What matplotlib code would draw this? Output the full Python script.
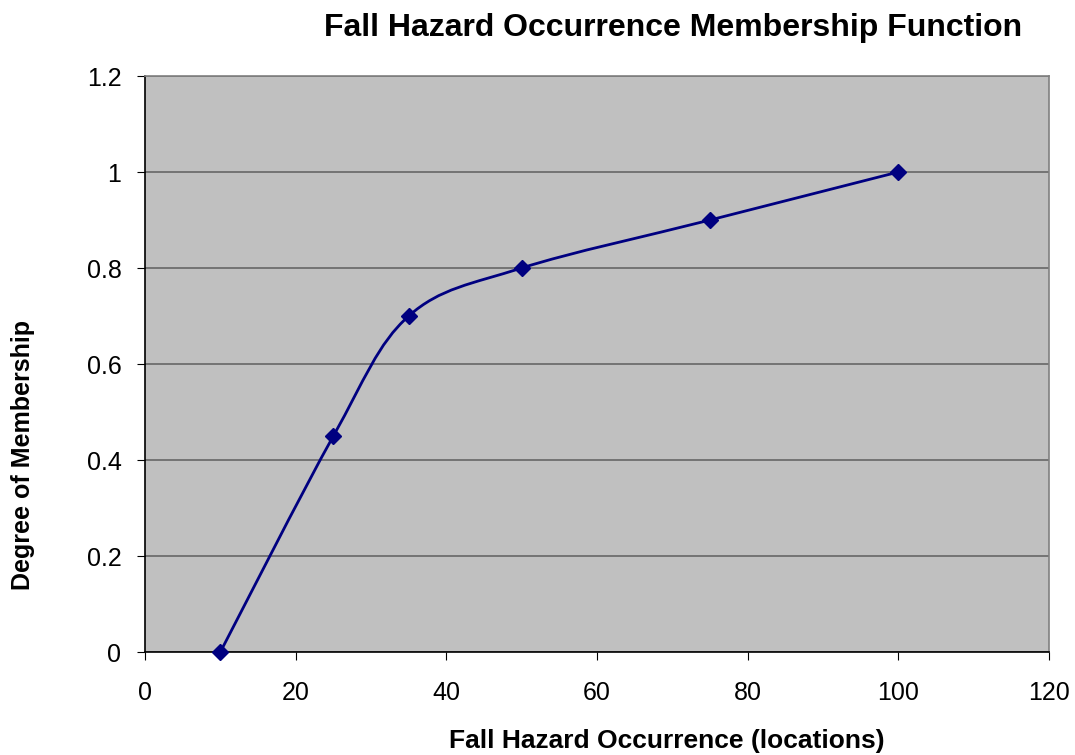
import numpy as np
import matplotlib
matplotlib.use("Agg")
import matplotlib.pyplot as plt
from matplotlib.path import Path
from matplotlib.patches import PathPatch

# data
occurrence = [10, 25, 35, 50, 75, 100]
membership = [0.0, 0.45, 0.7, 0.8, 0.9, 1.0]
x_ticks = [0, 20, 40, 60, 80, 100, 120]
y_ticks = [0, 0.2, 0.4, 0.6, 0.8, 1, 1.2]
y_labels = ["0", "0.2", "0.4", "0.6", "0.8", "1", "1.2"]

NAVY = "#000080"

plt.rcParams['font.family'] = ['Liberation Sans', 'DejaVu Sans']

fig = plt.figure(figsize=(10.75, 7.55), dpi=100)
ax = fig.add_axes([0.1349, 0.1364, 0.8409, 0.7629])
ax.set_facecolor("#C0C0C0")

# smoothed line like the spreadsheet (catmull-rom style bezier)
pts = np.column_stack([occurrence, membership])
padded = np.vstack([pts[0], pts, pts[-1]])
verts = [tuple(pts[0])]
codes = [Path.MOVETO]
for i in range(len(pts) - 1):
    p0, p1, p2, p3 = padded[i], padded[i + 1], padded[i + 2], padded[i + 3]
    c1 = p1 + (p2 - p0) / 6.0
    c2 = p2 - (p3 - p1) / 6.0
    verts += [tuple(c1), tuple(c2), tuple(p2)]
    codes += [Path.CURVE4] * 3
ax.add_patch(PathPatch(Path(verts, codes), facecolor="none", edgecolor=NAVY,
                       lw=2, zorder=3))
ax.plot(occurrence, membership, linestyle="none", marker="D", ms=8,
        color=NAVY, zorder=4, clip_on=False)

ax.set_xlim(0, 120)
ax.set_ylim(0, 1.2)
ax.set_xticks(x_ticks)
ax.set_yticks(y_ticks)
ax.set_yticklabels(y_labels)
ax.yaxis.grid(True, color="#666666", lw=1.2)
ax.set_axisbelow(True)
ax.tick_params(direction="out", length=6, labelsize=18, color="black")
ax.tick_params(axis="x", pad=15)
ax.tick_params(axis="y", pad=11)
for side in ["left", "bottom"]:
    ax.spines[side].set_color("black")
    ax.spines[side].set_linewidth(1.2)
for side in ["top", "right"]:
    ax.spines[side].set_color("#808080")
    ax.spines[side].set_linewidth(1.2)

fig.text(0.626, 0.963, "Fall Hazard Occurrence Membership Function",
         ha="center", va="center", fontsize=23, fontweight="bold")
fig.text(0.62, 0.018, "Fall Hazard Occurrence (locations)",
         ha="center", va="center", fontsize=19, fontweight="bold")
fig.text(0.021, 0.397, "Degree of Membership", rotation=90,
         ha="center", va="center", fontsize=18, fontweight="bold")

fig.savefig("out.png", dpi=100)
